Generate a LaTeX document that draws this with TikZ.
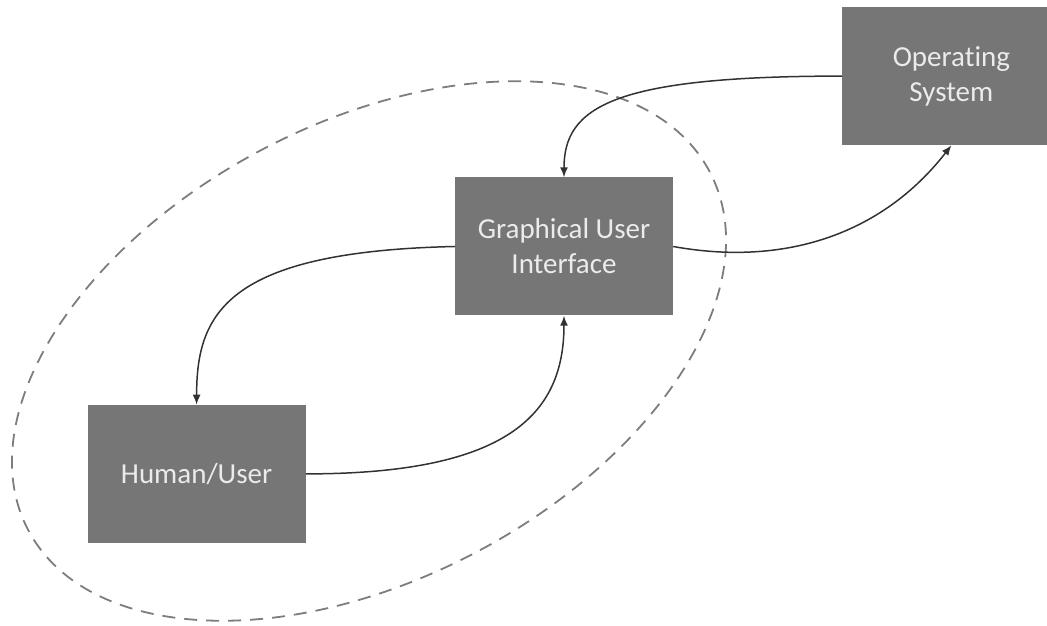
\documentclass[tikz,border=0pt]{standalone}
\usepackage{fontspec}
\setmainfont{Carlito}[RawFeature={-liga;-clig;-calt;-dlig}]
\usepackage{tikz}
\usetikzlibrary{arrows.meta, positioning}
\definecolor{boxgray}{RGB}{118,118,118}
\definecolor{linegray}{RGB}{50,50,50}
\definecolor{dashgray}{RGB}{125,125,125}

\begin{document}
\begin{tikzpicture}[x=1pt, y=1pt,
      box/.style={fill=boxgray, text=white!92!black, align=center,
        minimum width=218pt, minimum height=138pt, inner sep=0pt,
        font=\fontsize{29}{35}\selectfont},
      arr/.style={-{Latex[length=10pt, width=8pt]}, line width=1.5pt, draw=linegray},
      zone/.style={dash pattern=on 13pt off 9pt, line width=1.8pt, draw=dashgray}
    ]
    \useasboundingbox (0,0) rectangle (1047,626);

    \node[box] (gui) at (564,379.5) {Graphical User\\Interface};
    \node[box, below left=89pt and 149pt of gui] (human) {Human/User};
    \node[box, above right=32pt and 169pt of gui] (os) {Operating\\System};

    \draw[zone, rotate around={27.7:(369,275)}] (369,275) ellipse [x radius=385pt, y radius=228pt];

    \draw[arr] (os.west) .. controls +(-230,0) and +(0,70) .. (gui.north);
    \draw[arr] (gui.east) .. controls +(110,-20) and +(-70,-90) .. (os.south);
    \draw[arr] (gui.west) .. controls +(-230,-5) and +(0,90) .. (human.north);
    \draw[arr] (human.east) .. controls +(200,0) and +(0,-100) .. (gui.south);
  \end{tikzpicture}
\end{document}
